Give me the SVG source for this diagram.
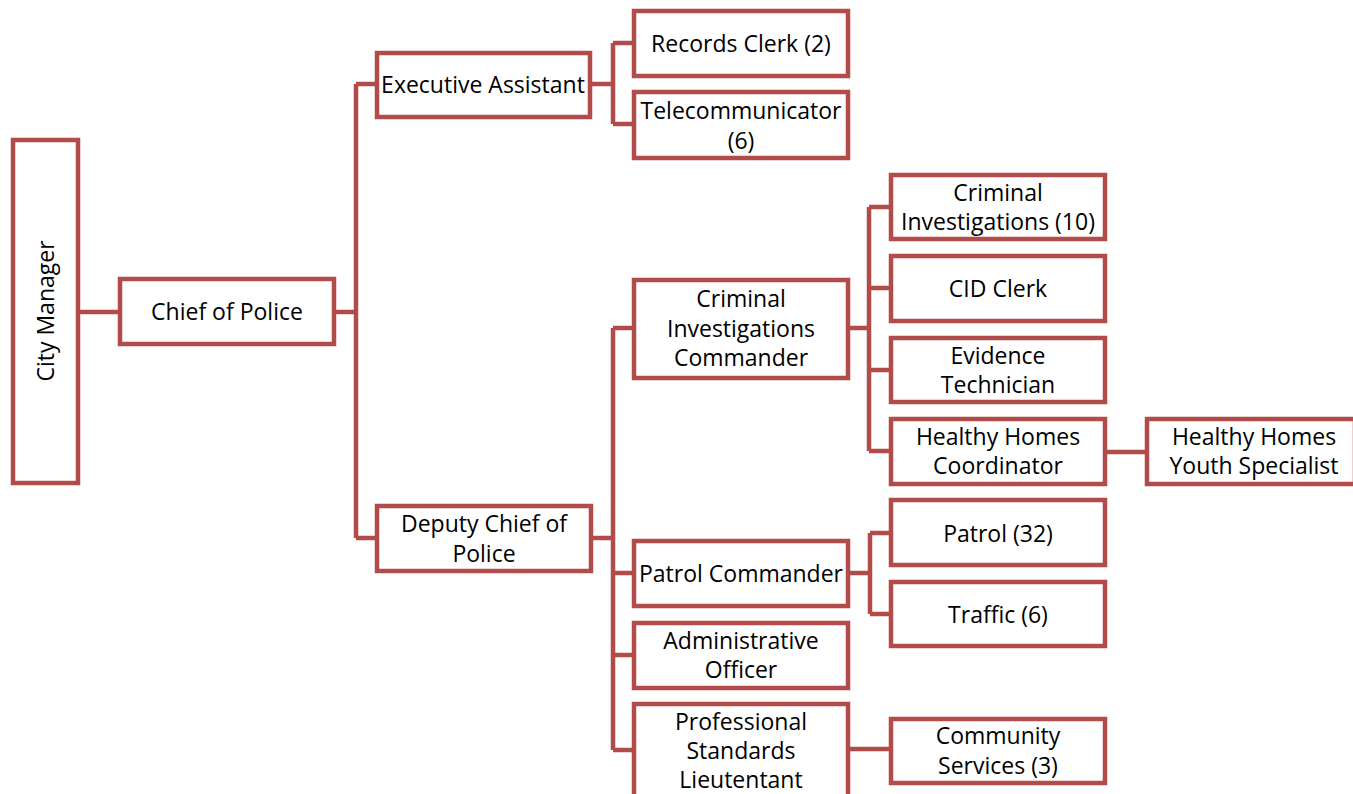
<svg xmlns="http://www.w3.org/2000/svg" width="1353" height="794" viewBox="0 0 1353 794">
<style>
.box{fill:#fff;stroke:#B14C4A;stroke-width:4.5}
.ln{fill:none;stroke:#B14C4A;stroke-width:4.5;stroke-linejoin:miter}
text{font-family:"Open Sans","Noto Sans","Liberation Sans",sans-serif;font-size:23px;fill:#000;text-anchor:middle;dominant-baseline:central}
</style>
<rect width="1353" height="794" fill="#fff"/>
<g id="connectors">
<path class="ln" d="M78,312H120"/>
<path class="ln" d="M334,312H356M356,84V538M356,84H377M356,538H377"/>
<path class="ln" d="M590,84H613M613,43V124M613,43H634M613,124H634"/>
<path class="ln" d="M591,538H613M613,328V750M613,328H634M613,573H634M613,655H634M613,750H634"/>
<path class="ln" d="M848,328H869M869,207V451M869,207H891M869,288H891M869,370H891M869,451H891"/>
<path class="ln" d="M1105,452H1147"/>
<path class="ln" d="M848,573H870M870,533V614M870,533H891M870,614H891"/>
<path class="ln" d="M848,749H891"/>
</g>
<g id="city-manager"><rect class="box" x="13" y="140" width="65" height="343"/><text transform="translate(45,311) rotate(-90)">City Manager</text></g>
<g id="chief"><rect class="box" x="120" y="279" width="214" height="65"/><text x="227" y="311">Chief of Police</text></g>
<g id="exec-assistant"><rect class="box" x="377" y="53" width="213" height="64"/><text x="483" y="84">Executive Assistant</text></g>
<g id="records-clerk"><rect class="box" x="634" y="11" width="214" height="65"/><text x="741" y="43">Records Clerk (2)</text></g>
<g id="telecommunicator"><rect class="box" x="634" y="92" width="214" height="66"/><text x="741" y="110">Telecommunicator</text><text x="741" y="140">(6)</text></g>
<g id="deputy-chief"><rect class="box" x="377" y="506" width="214" height="65"/><text x="484" y="523">Deputy Chief of</text><text x="484" y="553">Police</text></g>
<g id="ci-commander"><rect class="box" x="634" y="280" width="214" height="98"/><text x="741" y="298">Criminal</text><text x="741" y="328">Investigations</text><text x="741" y="357">Commander</text></g>
<g id="criminal-investigations"><rect class="box" x="891" y="175" width="214" height="64"/><text x="998" y="192">Criminal</text><text x="998" y="221">Investigations (10)</text></g>
<g id="cid-clerk"><rect class="box" x="891" y="256" width="214" height="65"/><text x="998" y="288">CID Clerk</text></g>
<g id="evidence-tech"><rect class="box" x="891" y="338" width="214" height="64"/><text x="998" y="355">Evidence</text><text x="998" y="384">Technician</text></g>
<g id="hh-coordinator"><rect class="box" x="891" y="419" width="214" height="65"/><text x="998" y="436">Healthy Homes</text><text x="998" y="465">Coordinator</text></g>
<g id="hh-youth"><rect class="box" x="1147" y="419" width="208" height="65"/><text x="1254" y="436">Healthy Homes</text><text x="1254" y="465">Youth Specialist</text></g>
<g id="patrol-commander"><rect class="box" x="634" y="541" width="214" height="65"/><text x="741" y="573">Patrol Commander</text></g>
<g id="patrol"><rect class="box" x="891" y="500" width="214" height="65"/><text x="998" y="533">Patrol (32)</text></g>
<g id="traffic"><rect class="box" x="891" y="582" width="214" height="64"/><text x="998" y="614">Traffic (6)</text></g>
<g id="admin-officer"><rect class="box" x="634" y="623" width="214" height="65"/><text x="741" y="640">Administrative</text><text x="741" y="669">Officer</text></g>
<g id="prof-standards"><rect class="box" x="634" y="704" width="214" height="100"/><text x="741" y="721">Professional</text><text x="741" y="750">Standards</text><text x="741" y="779">Lieutentant</text></g>
<g id="community-services"><rect class="box" x="891" y="719" width="214" height="64"/><text x="998" y="735">Community</text><text x="998" y="765">Services (3)</text></g>
</svg>
